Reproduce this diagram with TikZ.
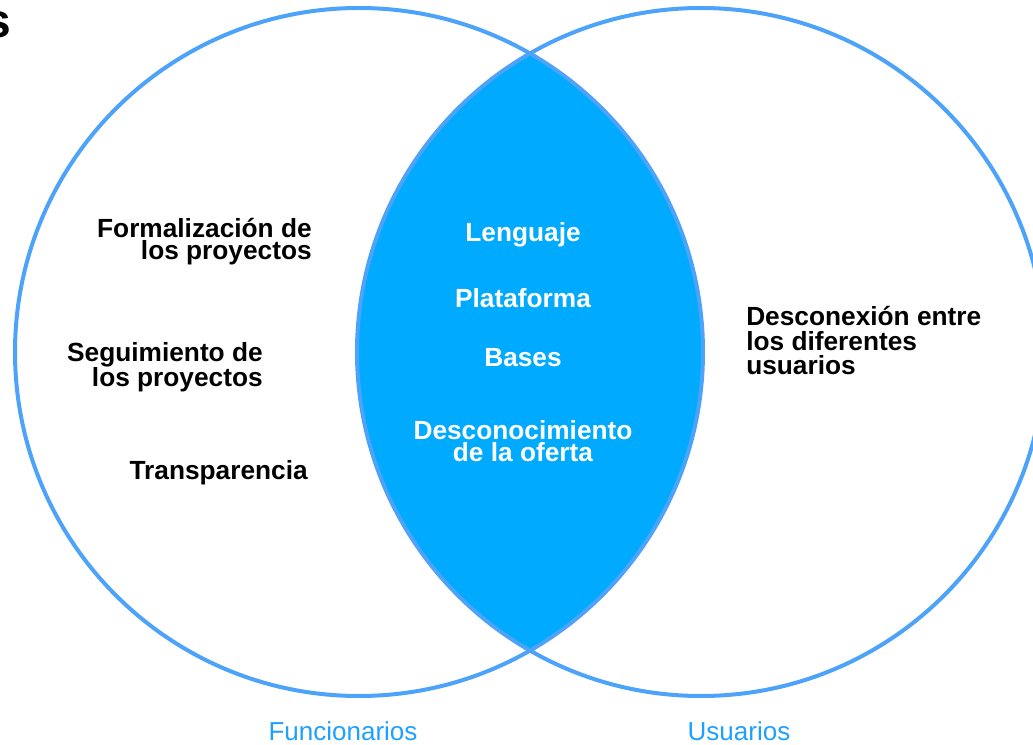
\documentclass[tikz,border=0pt]{standalone}
\usepackage{fontspec}
\setmainfont{Liberation Sans}
\definecolor{ringblue}{RGB}{77,163,250}
\definecolor{lensblue}{RGB}{0,170,255}
\definecolor{setblue}{RGB}{30,160,255}
\begin{document}
\begin{tikzpicture}[x=0.75pt,y=-0.75pt,
  ring/.style={draw=ringblue,line width=3pt},
  item/.style={inner sep=0pt,font=\fontsize{19.7}{16.5}\selectfont\bfseries},
  lensitem/.style={item,text=white,align=center,anchor=base},
  setname/.style={inner sep=0pt,text=setblue,font=\fontsize{19.5}{22}\selectfont,anchor=base}]
\useasboundingbox (0,0) rectangle (1033,745);
\coordinate (F) at (359,352);
\coordinate (U) at (701,352);
\begin{scope}
\clip (F) circle[radius=344];
\fill[lensblue] (U) circle[radius=344];
\end{scope}
\draw[ring] (F) circle[radius=344];
\draw[ring] (U) circle[radius=344];
\node[inner sep=0pt,anchor=base east,font=\fontsize{36}{40}\selectfont\bfseries] (title) at (11,38) {s};
\node[item,align=right,anchor=base east] (formal) at (312,260) {Formalización de\\los proyectos};
\node[item,align=right,anchor=base east] (seguim) at (263,387) {Seguimiento de\\los proyectos};
\node[item,anchor=base east] (transp) at (308,480) {Transparencia};
\node[lensitem] (lengua) at (523,242) {Lenguaje};
\node[lensitem] (plataf) at (523,308) {Plataforma};
\node[lensitem] (bases) at (523,367) {Bases};
\node[lensitem] (descon) at (523,462) {Desconocimiento\\de la oferta};
\node[item,align=left,anchor=base west,font=\fontsize{19.7}{18.4}\selectfont\bfseries] (descnx) at (746,375) {Desconexión entre\\los diferentes\\usuarios};
\node[setname] (func) at (343,740) {Funcionarios};
\node[setname] (usua) at (739,740) {Usuarios};
\end{tikzpicture}
\end{document}
